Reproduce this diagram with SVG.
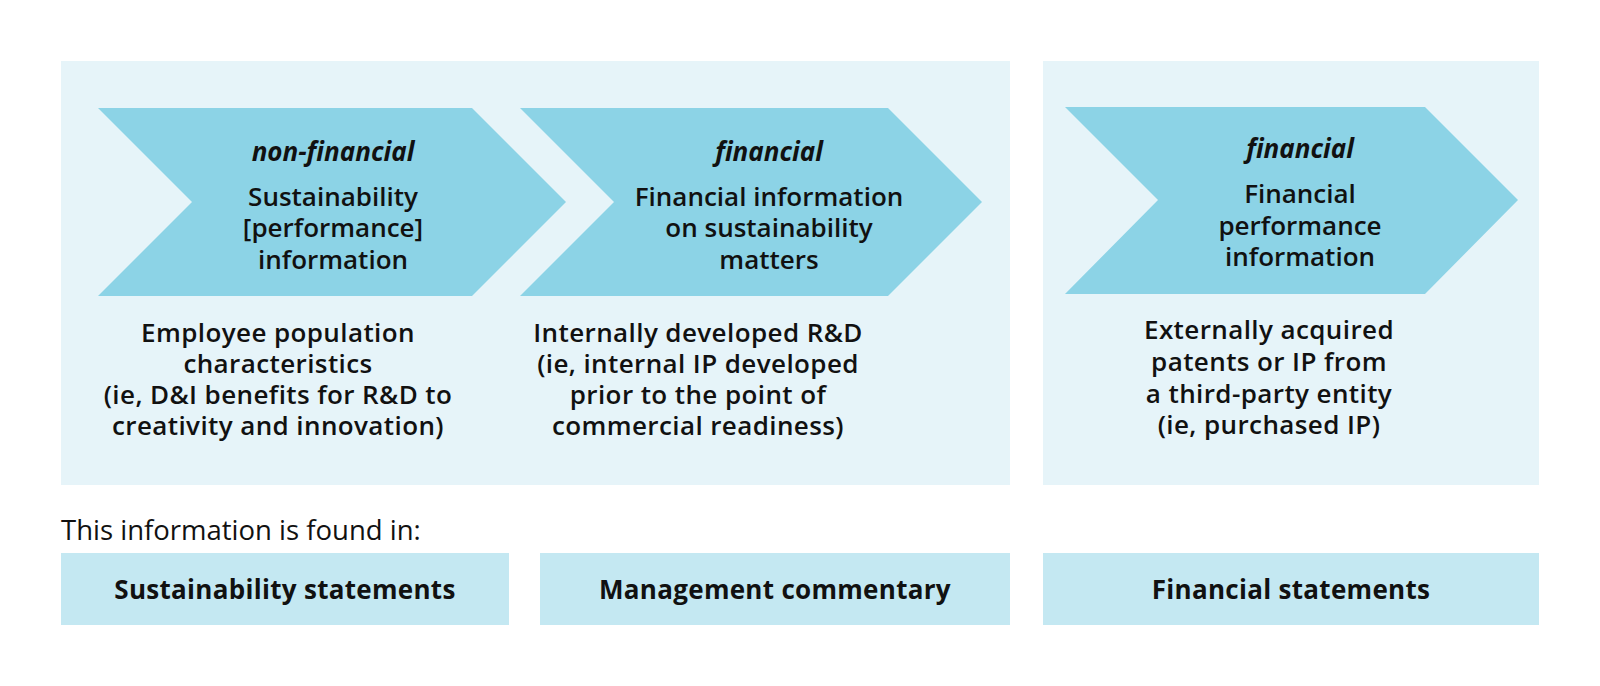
<svg xmlns="http://www.w3.org/2000/svg" width="1600" height="686" viewBox="0 0 1600 686">
  <style>
    .panel { fill: #e6f4f9; }
    .chev { fill: #8cd3e6; }
    .box { fill: #c4e8f2; }
    text { font-family: "Open Sans", "Liberation Sans", sans-serif; fill: #111111; text-anchor: middle; }
    .kind { font-size: 26px; font-weight: 700; font-style: italic; }
    .title { font-size: 26px; font-weight: 600; }
    .note { font-size: 26px; font-weight: 600; letter-spacing: 0.4px; }
    .lead { font-size: 27.5px; font-weight: 500; text-anchor: start; }
    .label { font-size: 26px; font-weight: 700; letter-spacing: 0.3px; }
  </style>
  <rect width="1600" height="686" fill="#ffffff"/>

  <g id="panel-sustainability-financial">
    <rect class="panel" x="61" y="61" width="949" height="424"/>
  </g>
  <g id="panel-financial-performance">
    <rect class="panel" x="1043" y="61" width="496" height="424"/>
  </g>

  <g id="chevron-non-financial">
    <polygon class="chev" points="98,108 472,108 566,202 472,296 98,296 192,202"/>
    <text class="kind" x="333" y="161">non-financial</text>
    <text class="title" x="333" y="206">Sustainability</text>
    <text class="title" x="333" y="237">[performance]</text>
    <text class="title" x="333" y="269">information</text>
  </g>

  <g id="chevron-financial-sustainability">
    <polygon class="chev" points="520,108 888,108 982,202 888,296 520,296 614,202"/>
    <text class="kind" x="769" y="161">financial</text>
    <text class="title" x="769" y="206">Financial information</text>
    <text class="title" x="769" y="237">on sustainability</text>
    <text class="title" x="769" y="269">matters</text>
  </g>

  <g id="chevron-financial-performance">
    <polygon class="chev" points="1065,107 1425,107 1518,200 1425,294 1065,294 1158,200"/>
    <text class="kind" x="1300" y="158">financial</text>
    <text class="title" x="1300" y="203">Financial</text>
    <text class="title" x="1300" y="235">performance</text>
    <text class="title" x="1300" y="266">information</text>
  </g>

  <g id="note-employee">
    <text class="note" x="278" y="342">Employee population</text>
    <text class="note" x="278" y="373">characteristics</text>
    <text class="note" x="278" y="404">(ie, D&amp;I benefits for R&amp;D to</text>
    <text class="note" x="278" y="435">creativity and innovation)</text>
  </g>

  <g id="note-internal-rd">
    <text class="note" x="698" y="342">Internally developed R&amp;D</text>
    <text class="note" x="698" y="373">(ie, internal IP developed</text>
    <text class="note" x="698" y="404">prior to the point of</text>
    <text class="note" x="698" y="435">commercial readiness)</text>
  </g>

  <g id="note-external-ip">
    <text class="note" x="1269" y="339">Externally acquired</text>
    <text class="note" x="1269" y="371">patents or IP from</text>
    <text class="note" x="1269" y="403">a third-party entity</text>
    <text class="note" x="1269" y="434">(ie, purchased IP)</text>
  </g>

  <g id="found-in-label">
    <text class="lead" x="61" y="540">This information is found in:</text>
  </g>

  <g id="box-sustainability-statements">
    <rect class="box" x="61" y="553" width="448" height="72"/>
    <text class="label" x="285" y="599">Sustainability statements</text>
  </g>
  <g id="box-management-commentary">
    <rect class="box" x="540" y="553" width="470" height="72"/>
    <text class="label" x="775" y="599">Management commentary</text>
  </g>
  <g id="box-financial-statements">
    <rect class="box" x="1043" y="553" width="496" height="72"/>
    <text class="label" x="1291" y="599">Financial statements</text>
  </g>
</svg>
